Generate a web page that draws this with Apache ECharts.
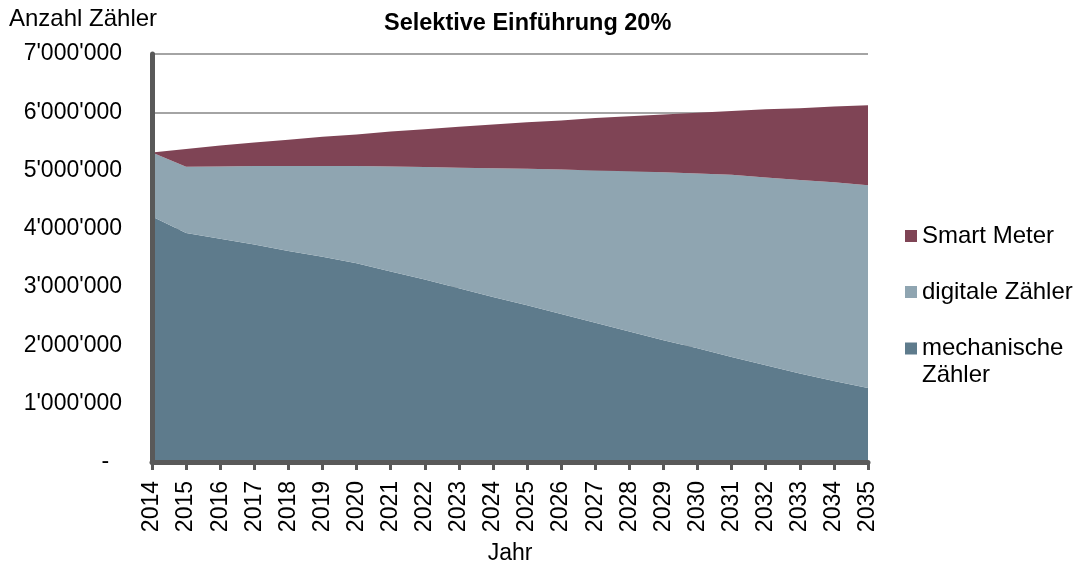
<!DOCTYPE html>
<html>
<head>
<meta charset="utf-8">
<script src="https://cdn.jsdelivr.net/npm/echarts@6/dist/echarts.min.js"></script>
<style>
html,body{margin:0;padding:0;background:#fff;}
#chart{width:1082px;height:565px;}
</style>
</head>
<body>
<div id="chart"></div>
<script>
var years = ['2014','2015','2016','2017','2018','2019','2020','2021','2022','2023','2024','2025','2026','2027','2028','2029','2030','2031','2032','2033','2034','2035'];
var mechanisch = [4210000,3930000,3830000,3730000,3620000,3520000,3410000,3270000,3130000,2980000,2830000,2690000,2540000,2390000,2240000,2090000,1950000,1800000,1660000,1520000,1390000,1270000];
var digital = [1100000,1135000,1240000,1350000,1460000,1560000,1670000,1800000,1930000,2070000,2210000,2340000,2480000,2610000,2750000,2880000,3000000,3130000,3220000,3320000,3410000,3480000];
var smart = [0,305000,360000,400000,450000,500000,540000,600000,650000,700000,750000,800000,840000,900000,940000,990000,1040000,1090000,1170000,1230000,1300000,1370000];
var seriesNames = ['mechanische Zähler','digitale Zähler','Smart Meter'];
var colors = ['#5e7b8c','#8fa5b1','#7f4455'];
var titleText = 'Selektive Einführung 20%';
var yTitle = 'Anzahl Zähler';
var xTitle = 'Jahr';

var FONT = 'Liberation Sans, Arial, sans-serif';
var FS = 23;
var LFS = 24;

function fmt(v){
  if (v === 0) return '-  ';
  return String(v).replace(/\B(?=(\d{3})+(?!\d))/g, "'");
}

function mkSeries(name, data, color){
  return {
    name: name, type: 'line', stack: 'total', data: data,
    yAxisIndex: 0,
    showSymbol: false, symbol: 'none',
    lineStyle: {width: 0},
    areaStyle: {color: color, opacity: 1},
    itemStyle: {color: color},
    emphasis: {disabled: true}
  };
}

function mkLegend(name, top, extra){
  var l = {data: [name], orient: 'vertical', left: 905, top: top, padding: 0,
     itemWidth: 12, itemHeight: 12, itemGap: 0, icon: 'rect', selectedMode: false,
     textStyle: {fontFamily: FONT, fontSize: LFS, color: '#000'}};
  if (extra) { for (var k in extra) l[k] = extra[k]; }
  return l;
}

var chart = echarts.init(document.getElementById('chart'));
chart.setOption({
  animation: false,
  backgroundColor: '#ffffff',
  title: [
    {text: titleText, left: 384, top: 12, padding: 0,
     textStyle: {fontFamily: FONT, fontSize: 23.5, fontWeight: 'bold', color: '#000'}},
    {text: yTitle, left: 9, top: 7, padding: 0,
     textStyle: {fontFamily: FONT, fontSize: LFS, fontWeight: 'normal', color: '#000'}}
  ],
  legend: [
    mkLegend(seriesNames[2], 224),
    mkLegend(seriesNames[1], 280),
    mkLegend(seriesNames[0], 308, {
      formatter: function(n){ return '\nmechanische\nZähler'; },
      textStyle: {fontFamily: FONT, fontSize: LFS, color: '#000', lineHeight: 27}
    })
  ],
  grid: {left: 152, right: 214, top: 54, bottom: 103, containLabel: false, outerBoundsMode: 'none'},
  xAxis: {
    type: 'category', data: years, boundaryGap: false, z: 5,
    name: xTitle, nameLocation: 'middle', nameGap: 80,
    nameTextStyle: {fontFamily: FONT, fontSize: FS, color: '#000'},
    axisLine: {show: true, onZero: false, lineStyle: {color: '#595959', width: 5}},
    axisTick: {show: true, interval: 0, length: 8, lineStyle: {color: '#595959', width: 3}},
    axisLabel: {interval: 0, rotate: 90, margin: 19, fontFamily: FONT, fontSize: FS, color: '#000'},
    splitLine: {show: false}
  },
  yAxis: [
    {
      type: 'value', min: 0, max: 7000000, interval: 1000000,
      axisLine: {show: false},
      axisTick: {show: false},
      axisLabel: {formatter: fmt, margin: 30, fontFamily: FONT, fontSize: FS, color: '#000'},
      splitLine: {show: true, lineStyle: {color: '#868686', width: 1.5}}
    },
    {
      type: 'value', min: 0, max: 7000000, interval: 1000000, position: 'left', offset: 0, z: 5,
      axisLine: {show: true, onZero: false, lineStyle: {color: '#595959', width: 5}},
      axisTick: {show: false},
      axisLabel: {show: false},
      splitLine: {show: false}
    }
  ],
  series: [
    mkSeries(seriesNames[0], mechanisch, colors[0]),
    mkSeries(seriesNames[1], digital, colors[1]),
    mkSeries(seriesNames[2], smart, colors[2])
  ]
});
</script>
</body>
</html>
